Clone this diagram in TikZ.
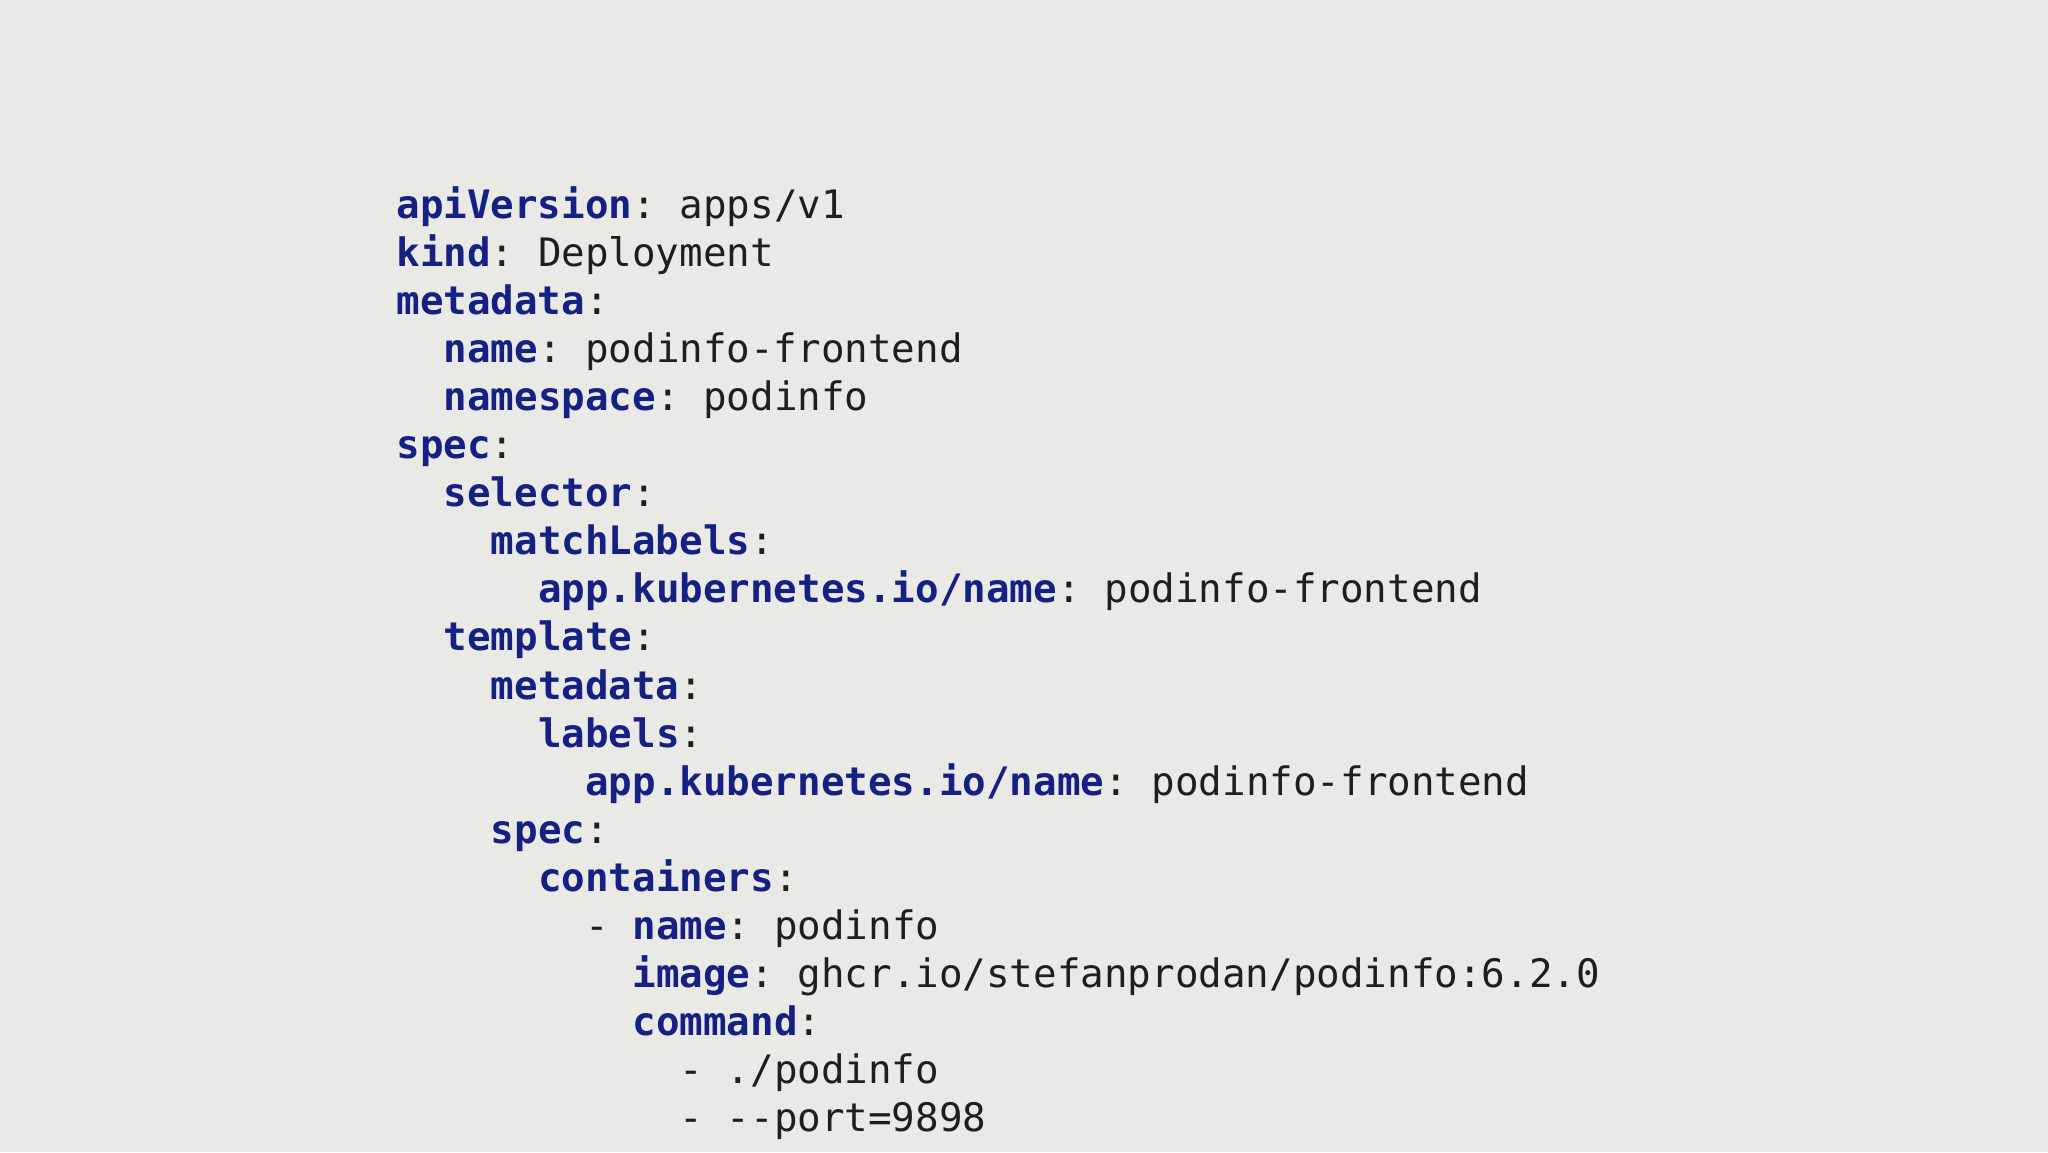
\documentclass[tikz,border=0pt]{standalone}
\usepackage{fontspec}
\setmonofont{DejaVu Sans Mono}
\definecolor{bg}{RGB}{233,233,229}
\definecolor{keyc}{RGB}{22,32,130}
\definecolor{valc}{RGB}{30,30,30}
\newcommand{\kk}[1]{\textcolor{keyc}{\bfseries #1}}
\tikzset{codeline/.style={anchor=base west,inner sep=0pt,font=\ttfamily\fontsize{19.6}{24}\selectfont,text=valc}}
\begin{document}
\begin{tikzpicture}[x=1pt,y=1pt]
\fill[bg] (0,0) rectangle (1024,-576);
\useasboundingbox (0,0) rectangle (1024,-576);
\def\cw{11.8}
\foreach \ind/\txt [count=\i from 0] in {
0/{\kk{apiVersion}: apps/v1},
0/{\kk{kind}: Deployment},
0/{\kk{metadata}:},
2/{\kk{name}: podinfo-frontend},
2/{\kk{namespace}: podinfo},
0/{\kk{spec}:},
2/{\kk{selector}:},
4/{\kk{matchLabels}:},
6/{\kk{app.kubernetes.io/name}: podinfo-frontend},
2/{\kk{template}:},
4/{\kk{metadata}:},
6/{\kk{labels}:},
8/{\kk{app.kubernetes.io/name}: podinfo-frontend},
4/{\kk{spec}:},
6/{\kk{containers}:},
8/{- \kk{name}: podinfo},
10/{\kk{image}: ghcr.io/stefanprodan/podinfo:6.2.0},
10/{\kk{command}:},
12/{- ./podinfo},
12/{- -{}-port=9898}}
{\node[codeline] (l\i) at ({198+\ind*\cw},{-109-24.05*\i}) {\txt};}
\end{tikzpicture}
\end{document}
